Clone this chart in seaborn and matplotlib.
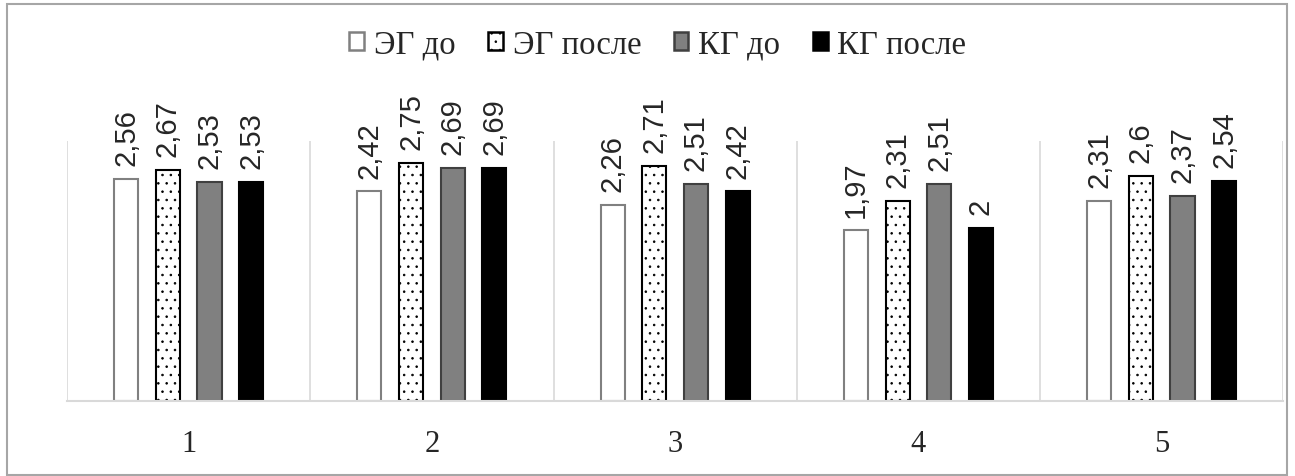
import seaborn as sns
import matplotlib.pyplot as plt
import matplotlib.patches as mpatches
import pandas as pd
import numpy as np

sns.set_style("white")
plt.rcParams["font.family"] = ["Liberation Serif", "DejaVu Serif"]
plt.rcParams["hatch.linewidth"] = 0.6

# Data
categories = ["1", "2", "3", "4", "5"]
groups = ["ЭГ до", "ЭГ после", "КГ до", "КГ после"]
eg_before = [2.56, 2.42, 2.26, 1.97, 2.31]
eg_after = [2.67, 2.75, 2.71, 2.31, 2.6]
kg_before = [2.53, 2.69, 2.51, 2.51, 2.37]
kg_after = [2.53, 2.69, 2.42, 2, 2.54]

df = pd.DataFrame({
    "cat": np.tile(categories, 4),
    "group": np.repeat(groups, 5),
    "value": eg_before + eg_after + kg_before + kg_after,
})

# bar styles: face, edge, hatch
styles = {
    "ЭГ до": ("white", "#808080", None),
    "ЭГ после": ("white", "black", ".."),
    "КГ до": ("#808080", "#404040", None),
    "КГ после": ("black", "black", None),
}

fig = plt.figure(figsize=(12.95, 4.77), dpi=100)
ax = fig.add_axes([0.0517, 0.157, 0.9393, 0.545])

sns.barplot(data=df, x="cat", y="value", hue="group", hue_order=groups,
            order=categories, width=0.685, gap=0.42, legend=False, ax=ax)

for cont, g in zip(ax.containers, groups):
    face, edge, hatch = styles[g]
    for bar in cont:
        bar.set_facecolor(face)
        bar.set_edgecolor(edge)
        bar.set_linewidth(1.5)
        if hatch:
            bar.set_hatch(hatch)
    vals = df.loc[df["group"] == g, "value"].tolist()
    ax.bar_label(cont, labels=[f"{v:g}".replace(".", ",") for v in vals],
                 rotation=90, padding=10, fontsize=21,
                 family=["Liberation Sans", "DejaVu Sans"])

ax.set_ylim(0, 3)
ax.set_xlim(-0.5, 4.5)
ax.set_xlabel("")
ax.set_ylabel("")
ax.set_yticks([])
ax.tick_params(axis="x", length=0, labelsize=22, pad=20)
ax.set_xticks(np.arange(-0.5, 5, 1), minor=True)
ax.grid(False)
ax.grid(True, which="minor", axis="x", color="#d9d9d9", lw=1.2)
for s in ["top", "left", "right"]:
    ax.spines[s].set_visible(False)
ax.spines["bottom"].set_color("#d9d9d9")
ax.spines["bottom"].set_linewidth(1.5)

# legend with small square keys
handles = [mpatches.Patch(facecolor=styles[g][0], edgecolor=styles[g][1],
                          hatch=styles[g][2], lw=1.8, label=g) for g in groups]
fig.legend(handles=handles, loc="center", bbox_to_anchor=(0.508, 0.905),
           ncol=4, frameon=False, fontsize=23.5, handlelength=0.45,
           handleheight=0.45, handletextpad=0.3, columnspacing=1.0)

# outer chart border
fig.patches.append(mpatches.Rectangle((7 / 1295, 1 / 477), 1280 / 1295, 471 / 477,
                                      transform=fig.transFigure, fill=False,
                                      edgecolor="#a6a6a6", lw=1.5))

fig.savefig("out.png", dpi=100)
plt.close(fig)
